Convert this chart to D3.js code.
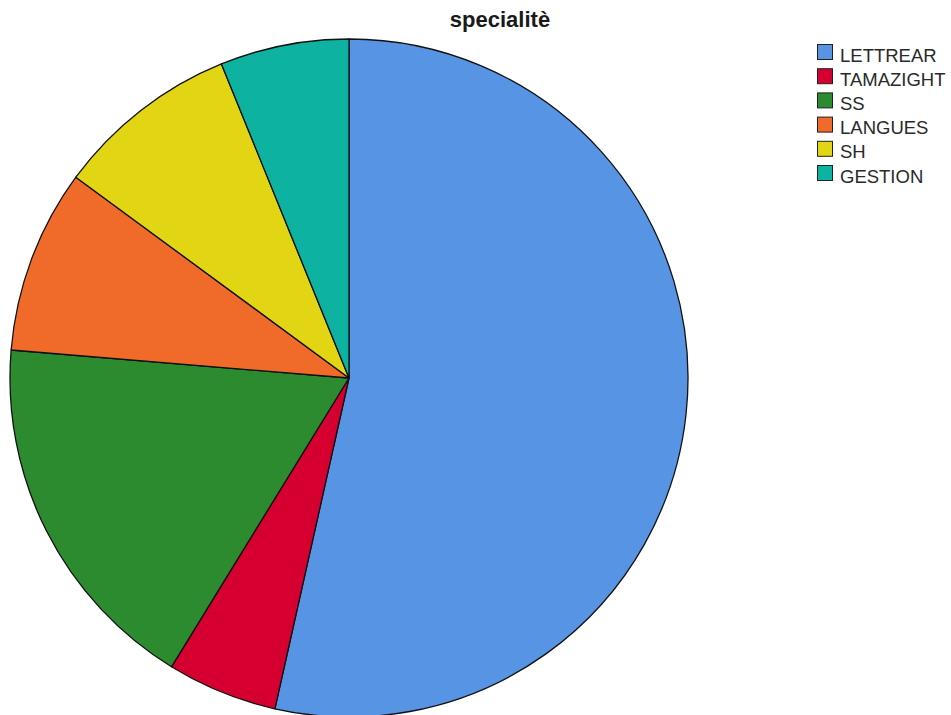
<!DOCTYPE html>
<html>
<head>
<meta charset="utf-8">
<script src="https://cdn.jsdelivr.net/npm/d3@7/dist/d3.min.js"></script>
<style>
  html, body { margin: 0; padding: 0; background: #ffffff; }
  svg { display: block; }
</style>
</head>
<body>
<svg id="chart" width="951" height="715"></svg>
<script>
// Specialty distribution (counts)
const categories = ["LETTREAR", "TAMAZIGHT", "SS", "LANGUES", "SH", "GESTION"];
const counts = [61, 6, 20, 10, 10, 7];
const colors = ["#5795e4", "#d5002f", "#2c8a2f", "#f06a2a", "#e2d514", "#0db3a0"];
const title = "specialitè";

const svg = d3.select("#chart");

const cx = 349, cy = 378, r = 339;

const color = d3.scaleOrdinal().domain(categories).range(colors);

const pie = d3.pie().sort(null).value(d => d.value)
  .startAngle(0).endAngle(2 * Math.PI);
const arc = d3.arc().innerRadius(0).outerRadius(r);

const data = categories.map((c, i) => ({ name: c, value: counts[i] }));

const g = svg.append("g").attr("transform", `translate(${cx},${cy})`);
g.selectAll("path")
  .data(pie(data))
  .join("path")
  .attr("d", arc)
  .attr("fill", d => color(d.data.name))
  .attr("stroke", "#111111")
  .attr("stroke-width", 1.3)
  .attr("stroke-linejoin", "round");

// Title
svg.append("text")
  .attr("x", 500)
  .attr("y", 27)
  .attr("text-anchor", "middle")
  .attr("font-family", "Liberation Sans, Arial, sans-serif")
  .attr("font-weight", "bold")
  .attr("font-size", 22)
  .attr("fill", "#1a1a1a")
  .text(title);

// Legend
const legend = svg.append("g").attr("transform", "translate(817,44)");
const rowH = 24.2;
const items = legend.selectAll("g")
  .data(categories)
  .join("g")
  .attr("transform", (d, i) => `translate(0,${i * rowH})`);
items.append("rect")
  .attr("x", 0.5).attr("y", 0.5)
  .attr("width", 15).attr("height", 15)
  .attr("fill", d => color(d))
  .attr("stroke", "#222222")
  .attr("stroke-width", 1);
items.append("text")
  .attr("x", 23)
  .attr("y", 17.5)
  .attr("font-family", "Liberation Sans, Arial, sans-serif")
  .attr("font-size", 18.5)
  .attr("fill", "#2a2a2a")
  .text(d => d);
</script>
</body>
</html>
